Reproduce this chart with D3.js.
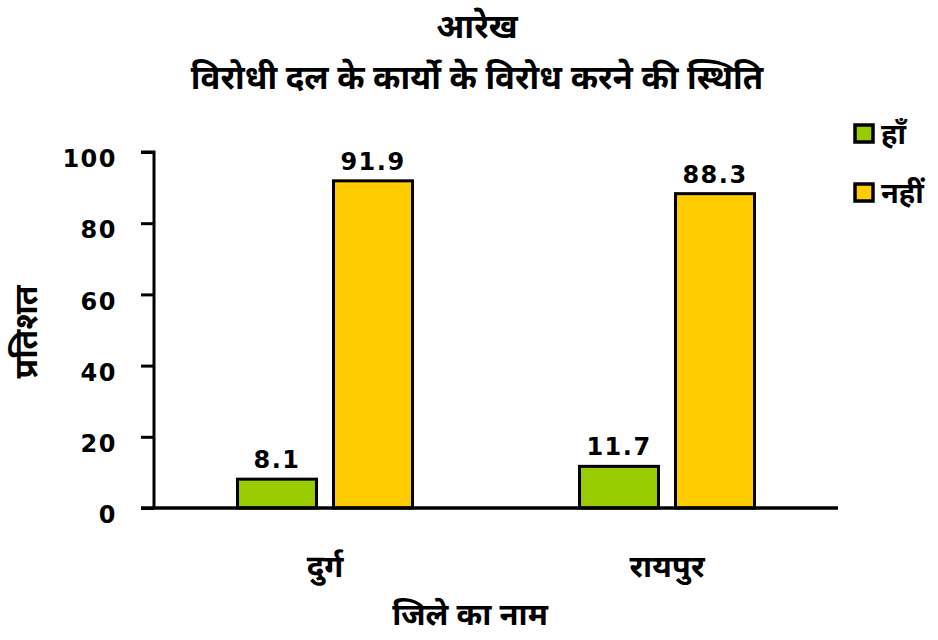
<!DOCTYPE html>
<html><head><meta charset="utf-8">
<script src="https://cdn.jsdelivr.net/npm/d3@7"></script>
<style>
body{margin:0;background:#fff;}
text{font-family:"Noto Sans Devanagari","Noto Sans","DejaVu Sans",sans-serif;font-weight:bold;fill:#000;}
.num{font-family:"DejaVu Sans",Verdana,sans-serif;}
</style></head>
<body><svg id="c" width="938" height="640"></svg>
<script>
const categories = ["दुर्ग", "रायपुर"];
const seriesNames = ["हाँ", "नहीं"];
const yesValues = [8.1, 11.7];
const noValues = [91.9, 88.3];
const yTicks = [0, 20, 40, 60, 80, 100];
const colors = ["#99CC00", "#FFCC00"];
const titleText = "आरेख";
const subtitleText = "विरोधी दल के कार्यो के विरोध करने की स्थिति";
const xTitle = "जिले का नाम";
const yTitle = "प्रतिशत";

const svg = d3.select("#c");
const mLeft = 154, mRight = 838, mTop = 152, mBottom = 508;
const x = d3.scaleBand().domain(categories).range([mLeft, mRight]);
const y = d3.scaleLinear().domain([0, 100]).range([mBottom, mTop]);
const inner = d3.scaleBand().domain(seriesNames).range([-89, 89]).paddingInner(0.146);

const data = categories.map((c, i) => ({cat: c, vals: [yesValues[i], noValues[i]]}));

svg.append("text").attr("x", 477).attr("y", 38).attr("text-anchor", "middle")
  .style("font-size", "33px").text(titleText);
svg.append("text").attr("x", 477).attr("y", 89).attr("text-anchor", "middle")
  .style("font-size", "33px").text(subtitleText);

// bars
const g = svg.append("g");
data.forEach(d => {
  d.vals.forEach((v, j) => {
    const cx = x(d.cat) + x.bandwidth() / 2;
    const bx = cx + inner(seriesNames[j]);
    g.append("rect").attr("x", bx + 1.5).attr("y", y(v))
      .attr("width", inner.bandwidth() - 3).attr("height", y(0) - y(v))
      .attr("fill", colors[j]).attr("stroke", "#000").attr("stroke-width", 3);
    g.append("text").attr("class", "num").attr("x", bx + inner.bandwidth() / 2).attr("y", y(v) - 11)
      .attr("text-anchor", "middle").style("font-size", "24px").style("letter-spacing", "1.5px").text(v.toFixed(1));
  });
});

// y axis
const ya = svg.append("g").attr("transform", `translate(${mLeft},0)`)
  .call(d3.axisLeft(y).tickValues(yTicks).tickSize(13).tickPadding(24));
ya.select(".domain").attr("stroke-width", 3).attr("d", `M-13,${mTop}H0V${mBottom}`);
ya.selectAll(".tick line").attr("stroke-width", 3);
ya.selectAll(".tick text").attr("class", "num").attr("y", 7)
  .style("font-size", "24px").style("font-weight", "bold").style("letter-spacing", "1.5px");

// x axis
const xa = svg.append("g").attr("transform", `translate(0,${mBottom})`)
  .call(d3.axisBottom(x).tickSize(0));
xa.select(".domain").attr("stroke-width", 3.5).attr("d", `M${mLeft - 13},0H${mRight}`);
xa.selectAll(".tick text").attr("dy", null).attr("y", 69).style("font-size", "31px").style("font-weight", "bold")
  .style("font-family", "'Noto Sans Devanagari','Noto Sans',sans-serif");

svg.append("text").attr("x", 470).attr("y", 625).attr("text-anchor", "middle")
  .style("font-size", "31px").text(xTitle);
svg.append("text").attr("transform", "translate(37,332) rotate(-90)").attr("text-anchor", "middle")
  .style("font-size", "32px").text(yTitle);

// legend
const lg = svg.append("g");
seriesNames.forEach((s, i) => {
  const yy = 125 + i * 59;
  lg.append("rect").attr("x", 855).attr("y", yy).attr("width", 18).attr("height", 17)
    .attr("fill", colors[i]).attr("stroke", "#000").attr("stroke-width", 3.5);
  lg.append("text").attr("x", 881).attr("y", yy + 19).style("font-size", "29px").text(s);
});
</script></body></html>
